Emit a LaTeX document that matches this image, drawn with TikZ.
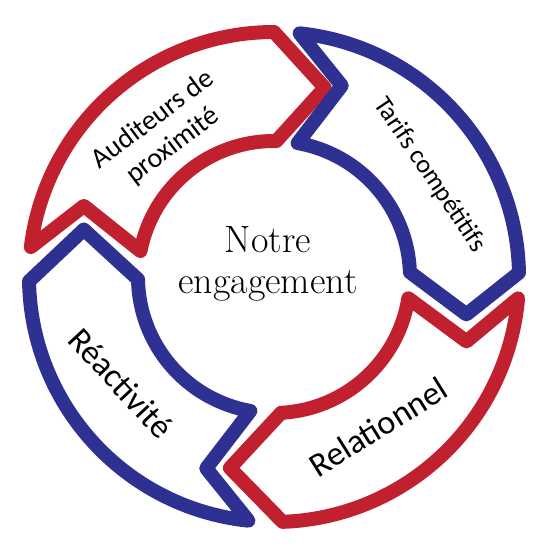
\documentclass[tikz,border=0pt]{standalone}
\usepackage{fontspec}
\newfontfamily\calibri{Carlito}
\usetikzlibrary{positioning}
\definecolor{segred}{RGB}{193,32,47}
\definecolor{segblue}{RGB}{46,49,146}

\begin{document}
\begin{tikzpicture}[
            x=1pt, y=1pt,
            seg/.style={line width=14pt, line join=round, fill=white},
            redseg/.style={seg, draw=segred},
            blueseg/.style={seg, draw=segblue},
            lab/.style={font=\calibri, align=center, inner sep=0pt},
            centre/.style={align=center, inner sep=0pt, font=\fontsize{38}{41}\selectfont}
        ]
        \useasboundingbox (0,0) rectangle (551,555);

        % ring segments, clockwise
        \begin{scope}[shift={(274,278)}]
            \draw[redseg] (173:245pt) arc[start angle=173, end angle=90, radius=245pt]
                -- (75:196pt) -- (89:136pt) arc[start angle=89, end angle=169, radius=136pt]
                -- (159.5:203pt) -- cycle;
            \draw[blueseg] (84:245pt) arc[start angle=84, end angle=1, radius=245pt]
                -- (-11:196pt) -- (2:136pt) arc[start angle=2, end angle=80, radius=136pt]
                -- (70.5:203pt) -- cycle;
            \draw[redseg] (-5:245pt) arc[start angle=-5, end angle=-88, radius=245pt]
                -- (-103:196pt) -- (-87:136pt) arc[start angle=-87, end angle=-9, radius=136pt]
                -- (-18.5:203pt) -- cycle;
            \draw[blueseg] (264:245pt) arc[start angle=264, end angle=181, radius=245pt]
                -- (166:196pt) -- (181:136pt) arc[start angle=181, end angle=260, radius=136pt]
                -- (250.5:203pt) -- cycle;
        \end{scope}

        % labels
        \node[centre] (engage) at (268,291) {Notre\\engagement};
        \node[lab, rotate=37, font=\calibri\fontsize{28}{33}\selectfont] (auditeurs) at (163,422) {Auditeurs de\\proximité};
        \node[lab, rotate=-56, font=\calibri\fontsize{26}{30}\selectfont] (tarifs) at (430,380) {Tarifs compétitifs};
        \node[lab, rotate=32, font=\calibri\fontsize{34}{40}\selectfont] (relation) at (378,128) {Relationnel};
        \node[lab, rotate=-47, font=\calibri\fontsize{34}{40}\selectfont] (reactif) at (121,172) {Réactivité};

    \end{tikzpicture}
\end{document}
